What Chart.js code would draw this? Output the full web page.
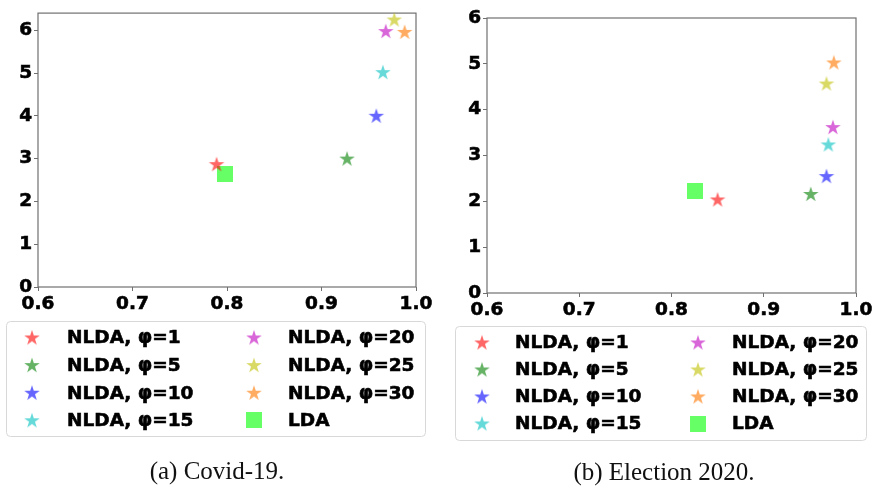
<!DOCTYPE html>
<html>
<head>
<meta charset="utf-8">
<script src="https://cdn.jsdelivr.net/npm/chart.js@4.4.0/dist/chart.umd.min.js"></script>
<style>
  html, body { margin: 0; padding: 0; background: #fff; }
  body { width: 876px; height: 489px; position: relative; overflow: hidden; }
  .panel { position: absolute; top: 0; width: 438px; height: 489px; }
  .caption {
    position: absolute; font-family: "Liberation Serif", serif; font-size: 25px;
    color: #111; transform: translate(-50%, -50%); white-space: nowrap;
  }
</style>
</head>
<body>
<div class="panel" style="left:0"><canvas id="chart-covid"></canvas></div>
<div class="panel" style="left:438px"><canvas id="chart-election"></canvas></div>
<div class="caption" style="left:217px; top:471px">(a) Covid-19.</div>
<div class="caption" style="left:664px; top:472px">(b) Election 2020.</div>
<script>
// ── Données ──
const phiValues = [1, 5, 10, 15, 20, 25, 30];
const seriesLabels = phiValues.map(p => `NLDA, φ=${p}`);
const ldaLabel = 'LDA';

// Covid-19 (x = score, y = valeur)
const covidX = [0.789, 0.927, 0.958, 0.965, 0.968, 0.977, 0.988];
const covidY = [2.87, 3.00, 4.00, 5.02, 5.98, 6.25, 5.96];
const covidLda = [0.798, 2.65];

// Election 2020
const electionX = [0.850, 0.951, 0.968, 0.970, 0.975, 0.968, 0.976];
const electionY = [2.04, 2.16, 2.55, 3.24, 3.62, 4.57, 5.03];
const electionLda = [0.825, 2.23];

const xTicks = [0.6, 0.7, 0.8, 0.9, 1.0];

const seriesColors = [
  'rgba(255,0,0,0.6)', 'rgba(0,128,0,0.6)', 'rgba(0,0,255,0.6)', 'rgba(0,191,191,0.6)',
  'rgba(191,0,191,0.6)', 'rgba(191,191,0,0.6)', 'rgba(255,127,14,0.65)'
];
const ldaColor = 'rgba(0,255,0,0.6)';

// ── Marqueurs ──
function makeStar(color) {
  const c = document.createElement('canvas');
  c.width = 18; c.height = 18;
  const ctx = c.getContext('2d');
  const R = 8.2, r = R * 0.382, cx = 9, cy = 9.6;
  ctx.beginPath();
  for (let i = 0; i < 10; i++) {
    const a = -Math.PI / 2 + i * Math.PI / 5;
    const rad = i % 2 === 0 ? R : r;
    ctx.lineTo(cx + rad * Math.cos(a), cy + rad * Math.sin(a));
  }
  ctx.closePath();
  ctx.fillStyle = color;
  ctx.fill();
  return c;
}

function makeSquare(color) {
  const c = document.createElement('canvas');
  c.width = 16; c.height = 16;
  const ctx = c.getContext('2d');
  ctx.fillStyle = color;
  ctx.fillRect(0, 0, 16, 16);
  return c;
}

const starImgs = seriesColors.map(makeStar);
const ldaImg = makeSquare(ldaColor);

// ── Plugins ──
const framePlugin = {
  id: 'frame',
  beforeDatasetsDraw(chart) {
    const { ctx, chartArea: a } = chart;
    ctx.save();
    ctx.strokeStyle = '#707070';
    ctx.lineWidth = 1.2;
    ctx.strokeRect(a.left, a.top, a.right - a.left, a.bottom - a.top);
    ctx.restore();
  }
};

const legendPlugin = {
  id: 'mplLegend',
  afterDraw(chart, args, opts) {
    const { ctx } = chart;
    const b = opts.box;
    ctx.save();
    ctx.beginPath();
    ctx.roundRect(b.x + 0.5, b.y + 0.5, b.w, b.h, 4);
    ctx.fillStyle = 'rgba(255,255,255,0.8)';
    ctx.fill();
    ctx.strokeStyle = '#d8d8d8';
    ctx.lineWidth = 1;
    ctx.stroke();
    ctx.font = 'bold 18.5px "DejaVu Sans"';
    ctx.fillStyle = '#000';
    ctx.strokeStyle = '#000';
    ctx.lineWidth = 0.6;
    ctx.textBaseline = 'middle';
    chart.data.datasets.forEach((ds, i) => {
      const col = Math.floor(i / 4), row = i % 4;
      const y = opts.rowY + row * opts.rowGap;
      const mx = opts.markerX[col], tx = opts.textX[col];
      const img = ds.pointStyle;
      ctx.drawImage(img, mx - img.width / 2, y - img.height / 2);
      ctx.fillText(ds.label, tx, y + 1);
      ctx.strokeText(ds.label, tx, y + 1);
    });
    ctx.restore();
  }
};

const tickFont = { family: 'DejaVu Sans', size: 18.5, weight: 'bold' };

function buildDatasets(xs, ys, lda) {
  const ds = xs.map((x, i) => ({
    label: seriesLabels[i],
    data: [{ x, y: ys[i] }],
    pointStyle: starImgs[i],
    pointRadius: 8,
    pointHoverRadius: 8,
    clip: false,
  }));
  ds.push({
    label: ldaLabel,
    data: [{ x: lda[0], y: lda[1] }],
    pointStyle: ldaImg,
    pointRadius: 8,
    pointHoverRadius: 8,
    clip: false,
  });
  return ds;
}

function makeChart(id, xs, ys, lda, cfg) {
  return new Chart(document.getElementById(id), {
    type: 'scatter',
    data: { datasets: buildDatasets(xs, ys, lda) },
    options: {
      responsive: true, maintainAspectRatio: false,
      animation: false,
      layout: { padding: cfg.padding },
      plugins: {
        legend: { display: false },
        tooltip: { enabled: false },
        mplLegend: cfg.legend,
      },
      scales: {
        x: {
          type: 'linear', min: 0.6, max: 1.0,
          afterFit: s => { s.height = 30; },
          afterBuildTicks: s => { s.ticks = xTicks.map(v => ({ value: v })); },
          ticks: {
            callback: v => v.toFixed(1), font: tickFont, color: '#000', padding: 2, maxRotation: 0,
            textStrokeColor: '#000', textStrokeWidth: 0.6,
          },
          grid: { display: true, drawOnChartArea: false, tickLength: 4, color: '#707070' },
          border: { display: false },
        },
        y: {
          type: 'linear', min: 0, max: cfg.yMax,
          afterFit: s => { s.width = cfg.yWidth; },
          ticks: {
            stepSize: 1, includeBounds: false, font: tickFont, color: '#000', padding: 2,
            textStrokeColor: '#000', textStrokeWidth: 0.6,
          },
          grid: { display: true, drawOnChartArea: false, tickLength: 4, color: '#707070' },
          border: { display: false },
        },
      },
    },
    plugins: [framePlugin, legendPlugin],
  });
}

makeChart('chart-covid', covidX, covidY, covidLda, {
  yMax: 6.4, yWidth: 38,
  padding: { left: 0, top: 7, right: 22, bottom: 172 },
  legend: {
    box: { x: 6, y: 321, w: 419, h: 115 },
    rowY: 337.5, rowGap: 27.6, markerX: [32, 254], textX: [67, 288],
  },
});

makeChart('chart-election', electionX, electionY, electionLda, {
  yMax: 6, yWidth: 49,
  padding: { left: 0, top: 18, right: 20, bottom: 166 },
  legend: {
    box: { x: 17, y: 326, w: 411, h: 114 },
    rowY: 342.5, rowGap: 27, markerX: [44, 260], textX: [77, 294],
  },
});
</script>
</body>
</html>
